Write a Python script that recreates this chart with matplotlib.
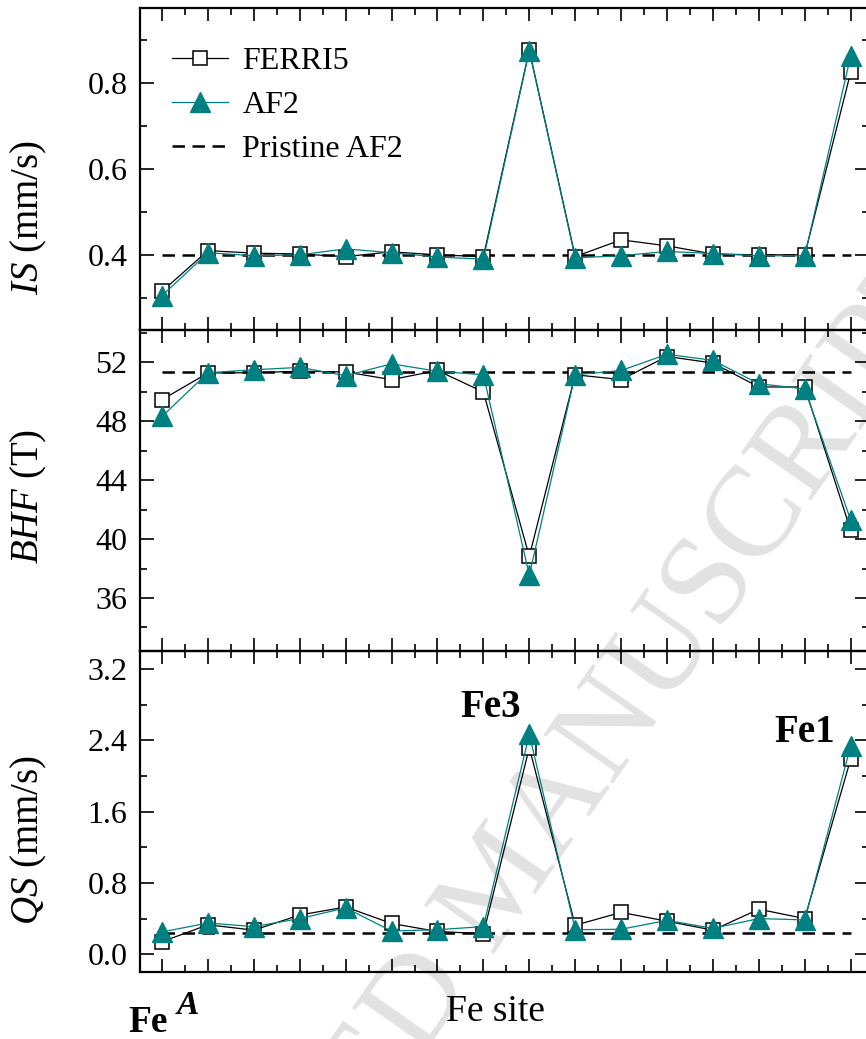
import matplotlib
matplotlib.use("Agg")
import matplotlib.pyplot as plt
from matplotlib.ticker import MultipleLocator, NullFormatter
import numpy as np

plt.rcParams["font.family"] = ["Liberation Serif", "DejaVu Serif"]
plt.rcParams["mathtext.fontset"] = "custom"
plt.rcParams["mathtext.rm"] = "Liberation Serif"
plt.rcParams["mathtext.it"] = "Liberation Serif:italic"
plt.rcParams["mathtext.bf"] = "Liberation Serif:bold"

TEAL = "#008080"

# Fe sites (16 inequivalent positions)
sites = np.arange(16)

# isomer shift (mm/s)
is_ferri5 = [0.315, 0.41, 0.404, 0.402, 0.396, 0.407, 0.40, 0.396, 0.877, 0.396,
             0.435, 0.421, 0.402, 0.40, 0.40, 0.825]
is_af2 = [0.305, 0.405, 0.398, 0.40, 0.414, 0.405, 0.395, 0.39, 0.875, 0.393,
          0.398, 0.408, 0.403, 0.398, 0.398, 0.863]
is_pristine = 0.40

# hyperfine field (T)
bhf_ferri5 = [49.47, 51.28, 51.3, 51.4, 51.35, 50.83, 51.45, 49.99, 38.83, 51.16,
              50.83, 52.4, 51.96, 50.33, 50.33, 40.6]
bhf_af2 = [48.33, 51.3, 51.5, 51.66, 51.1, 51.9, 51.4, 51.16, 37.55, 51.16,
           51.45, 52.55, 52.14, 50.55, 50.2, 41.3]
bhf_pristine = 51.35

# quadrupole splitting (mm/s)
qs_ferri5 = [0.14, 0.33, 0.27, 0.44, 0.53, 0.345, 0.255, 0.23, 2.32, 0.325,
             0.47, 0.37, 0.27, 0.505, 0.40, 2.19]
qs_af2 = [0.25, 0.35, 0.31, 0.40, 0.52, 0.26, 0.275, 0.31, 2.47, 0.275,
          0.28, 0.38, 0.29, 0.40, 0.385, 2.34]
qs_pristine = 0.243

panels = [
    (is_ferri5, is_af2, is_pristine, r"$IS$ (mm/s)", (0.225, 0.975), 0.2, 0.1, 0.348),
    (bhf_ferri5, bhf_af2, bhf_pristine, r"$BHF$ (T)", (32.4, 54.2), 4, 2, 0.483),
    (qs_ferri5, qs_af2, qs_pristine, r"$QS$ (mm/s)", (-0.2, 3.405), 0.8, 0.4, 0.411),
]

W, H = 866, 1039
fig = plt.figure(figsize=(W / 100, H / 100), dpi=100)

left = 140 / W
width = (869 - 140) / W
edges = [(8, 330), (330, 651), (651, 972)]

axes = []
for (fer, af, pri, label, ylim, major, minor, ly), (top, bot) in zip(panels, edges):
    ax = fig.add_axes([left, 1 - bot / H, width, (bot - top) / H])
    ax.patch.set_visible(False)
    ax.plot(sites, fer, "-", color="black", lw=0.9, marker="s", ms=10,
            mfc="white", mec="black", mew=1.1, label="FERRI5", zorder=3)
    ax.plot(sites, af, "-", color=TEAL, lw=0.9, marker="^", ms=14,
            mfc=TEAL, mec=TEAL, label="AF2", zorder=4)
    ax.hlines(pri, sites[0], sites[-1], colors="black", linestyles=(0, (5, 3)),
              lw=1.8, label="Pristine AF2", zorder=2)
    ax.set_xlim(-0.48, 15.4)
    ax.set_ylim(*ylim)
    ax.xaxis.set_major_locator(MultipleLocator(1))
    ax.xaxis.set_minor_locator(MultipleLocator(0.5))
    ax.xaxis.set_major_formatter(NullFormatter())
    ax.yaxis.set_major_locator(MultipleLocator(major))
    ax.yaxis.set_minor_locator(MultipleLocator(minor))
    ax.tick_params(axis="both", which="both", direction="in", top=True, right=True,
                   width=1.2, labelsize=23, pad=9)
    ax.tick_params(axis="x", which="major", length=9.5)
    ax.tick_params(axis="x", which="minor", length=5)
    ax.tick_params(axis="y", which="major", length=10)
    ax.tick_params(axis="y", which="minor", length=5)
    for s in ax.spines.values():
        s.set_linewidth(1.6)
    ax.set_ylabel(label, fontsize=28)
    ax.yaxis.set_label_coords(-0.125, ly)
    axes.append(ax)

axes[0].legend(loc="upper left", bbox_to_anchor=(0.044, 0.879), frameon=False,
               fontsize=23, numpoints=1, handlelength=1.75, handletextpad=0.45,
               labelspacing=0.46, borderpad=0, borderaxespad=0)

axes[2].text(7.17, 2.77, "Fe3", fontsize=28, fontweight="bold", ha="center", va="center")
axes[2].text(14.0, 2.49, "Fe1", fontsize=28, fontweight="bold", ha="center", va="center")

fig.text(148 / W, 1 - 1022 / H, "Fe", fontsize=27, fontweight="bold", ha="center", va="center")
fig.text(188 / W, 1 - 1006 / H, "A", fontsize=24, fontweight="bold", fontstyle="italic",
         ha="center", va="center")
fig.text(495 / W, 1 - 1012 / H, "Fe site", fontsize=27, ha="center", va="center")

# watermark
fig.text(505 / W, 1 - 884 / H, "ACCEPTED MANUSCRIPT", fontsize=93, color="#e2e2e2",
         rotation=55, rotation_mode="anchor", ha="center", va="center", zorder=-1)

fig.savefig("out.png", dpi=100)
